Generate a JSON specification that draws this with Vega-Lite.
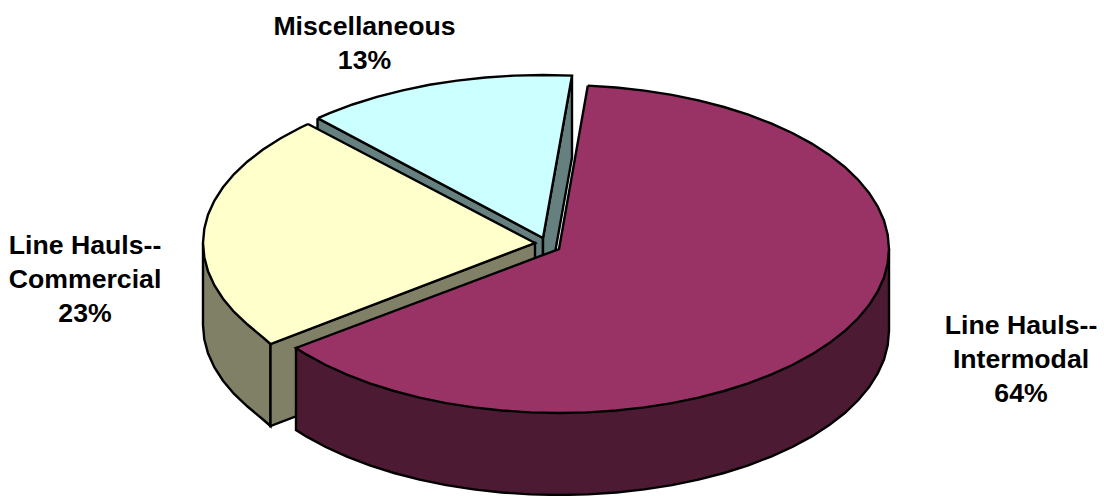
{
"$schema":"https://vega.github.io/schema/vega-lite/v6.json",
"width":1104,"height":496,
"autosize":{"type":"none"},
"padding":0,
"background":"white",
"view":{"stroke":null},
"datasets":{
"outline":[
{"face":"Misc cut A","seq":1,"x":317.5,"y":118.2},{"face":"Misc cut A","seq":2,"x":317.5,"y":200},{"face":"Misc cut A","seq":3,"x":543,"y":320},{"face":"Misc cut A","seq":4,"x":543,"y":238},{"face":"Misc cut A","seq":5,"x":317.5,"y":118.2},
{"face":"Misc cut B","seq":1,"x":572,"y":75.6},{"face":"Misc cut B","seq":2,"x":572,"y":157.6},{"face":"Misc cut B","seq":3,"x":543,"y":320},{"face":"Misc cut B","seq":4,"x":543,"y":238},{"face":"Misc cut B","seq":5,"x":572,"y":75.6},
{"face":"Misc top","seq":1,"x":318,"y":118.2},{"face":"Misc top","seq":2,"x":329.6,"y":113.1},{"face":"Misc top","seq":3,"x":352.6,"y":104.5},{"face":"Misc top","seq":4,"x":377,"y":96.8},{"face":"Misc top","seq":5,"x":402.7,"y":90.3},{"face":"Misc top","seq":6,"x":429.5,"y":84.8},{"face":"Misc top","seq":7,"x":457.1,"y":80.6},{"face":"Misc top","seq":8,"x":485.4,"y":77.5},{"face":"Misc top","seq":9,"x":514.1,"y":75.6},{"face":"Misc top","seq":10,"x":543,"y":75},{"face":"Misc top","seq":11,"x":572,"y":75.6},{"face":"Misc top","seq":12,"x":543,"y":238},{"face":"Misc top","seq":13,"x":318,"y":118.2},
{"face":"Commercial rim","seq":1,"x":203,"y":243},{"face":"Commercial rim","seq":2,"x":203,"y":325},{"face":"Commercial rim","seq":3,"x":204.3,"y":339.2},{"face":"Commercial rim","seq":4,"x":208,"y":353.3},{"face":"Commercial rim","seq":5,"x":214.3,"y":367.2},{"face":"Commercial rim","seq":6,"x":223,"y":380.7},{"face":"Commercial rim","seq":7,"x":234.1,"y":393.9},{"face":"Commercial rim","seq":8,"x":247.5,"y":406.5},{"face":"Commercial rim","seq":9,"x":263,"y":419.5},{"face":"Commercial rim","seq":10,"x":270.5,"y":426},{"face":"Commercial rim","seq":11,"x":270.5,"y":344},{"face":"Commercial rim","seq":12,"x":203,"y":243},
{"face":"Commercial cut","seq":1,"x":270.5,"y":344},{"face":"Commercial cut","seq":2,"x":270.5,"y":426},{"face":"Commercial cut","seq":3,"x":535,"y":325},{"face":"Commercial cut","seq":4,"x":535,"y":243},{"face":"Commercial cut","seq":5,"x":270.5,"y":344},
{"face":"Commercial top","seq":1,"x":308,"y":124},{"face":"Commercial top","seq":2,"x":300.2,"y":127.7},{"face":"Commercial top","seq":3,"x":280.7,"y":138.2},{"face":"Commercial top","seq":4,"x":263,"y":149.5},{"face":"Commercial top","seq":5,"x":247.5,"y":161.5},{"face":"Commercial top","seq":6,"x":234.1,"y":174.1},{"face":"Commercial top","seq":7,"x":223,"y":187.3},{"face":"Commercial top","seq":8,"x":214.3,"y":200.8},{"face":"Commercial top","seq":9,"x":208,"y":214.7},{"face":"Commercial top","seq":10,"x":204.3,"y":228.8},{"face":"Commercial top","seq":11,"x":203,"y":243},{"face":"Commercial top","seq":12,"x":204.3,"y":257.2},{"face":"Commercial top","seq":13,"x":208,"y":271.3},{"face":"Commercial top","seq":14,"x":214.3,"y":285.2},{"face":"Commercial top","seq":15,"x":223,"y":298.7},{"face":"Commercial top","seq":16,"x":234.1,"y":311.9},{"face":"Commercial top","seq":17,"x":247.5,"y":324.5},{"face":"Commercial top","seq":18,"x":263,"y":337.5},{"face":"Commercial top","seq":19,"x":270.5,"y":344},{"face":"Commercial top","seq":20,"x":535,"y":243},{"face":"Commercial top","seq":21,"x":308,"y":124},
{"face":"Intermodal wall","seq":1,"x":889,"y":249},{"face":"Intermodal wall","seq":2,"x":889,"y":331},{"face":"Intermodal wall","seq":3,"x":887.7,"y":345.3},{"face":"Intermodal wall","seq":4,"x":884,"y":359.5},{"face":"Intermodal wall","seq":5,"x":877.7,"y":373.4},{"face":"Intermodal wall","seq":6,"x":869.1,"y":387.1},{"face":"Intermodal wall","seq":7,"x":858.1,"y":400.3},{"face":"Intermodal wall","seq":8,"x":844.8,"y":413},{"face":"Intermodal wall","seq":9,"x":829.3,"y":425.1},{"face":"Intermodal wall","seq":10,"x":811.8,"y":436.4},{"face":"Intermodal wall","seq":11,"x":792.3,"y":447},{"face":"Intermodal wall","seq":12,"x":771.1,"y":456.6},{"face":"Intermodal wall","seq":13,"x":748.3,"y":465.3},{"face":"Intermodal wall","seq":14,"x":724,"y":473},{"face":"Intermodal wall","seq":15,"x":698.5,"y":479.6},{"face":"Intermodal wall","seq":16,"x":671.9,"y":485.1},{"face":"Intermodal wall","seq":17,"x":644.4,"y":489.4},{"face":"Intermodal wall","seq":18,"x":616.3,"y":492.5},{"face":"Intermodal wall","seq":19,"x":587.8,"y":494.4},{"face":"Intermodal wall","seq":20,"x":559,"y":495},{"face":"Intermodal wall","seq":21,"x":530.2,"y":494.4},{"face":"Intermodal wall","seq":22,"x":501.7,"y":492.5},{"face":"Intermodal wall","seq":23,"x":473.6,"y":489.4},{"face":"Intermodal wall","seq":24,"x":446.1,"y":485.1},{"face":"Intermodal wall","seq":25,"x":419.5,"y":479.6},{"face":"Intermodal wall","seq":26,"x":394,"y":473},{"face":"Intermodal wall","seq":27,"x":369.7,"y":465.3},{"face":"Intermodal wall","seq":28,"x":346.9,"y":456.6},{"face":"Intermodal wall","seq":29,"x":325.7,"y":447},{"face":"Intermodal wall","seq":30,"x":306.2,"y":436.4},{"face":"Intermodal wall","seq":31,"x":296,"y":430},{"face":"Intermodal wall","seq":32,"x":296,"y":348},{"face":"Intermodal wall","seq":33,"x":889,"y":249},
{"face":"Intermodal top","seq":1,"x":587.8,"y":85.6},{"face":"Intermodal top","seq":2,"x":616.3,"y":87.5},{"face":"Intermodal top","seq":3,"x":644.4,"y":90.6},{"face":"Intermodal top","seq":4,"x":671.9,"y":94.9},{"face":"Intermodal top","seq":5,"x":698.5,"y":100.4},{"face":"Intermodal top","seq":6,"x":724,"y":107},{"face":"Intermodal top","seq":7,"x":748.3,"y":114.7},{"face":"Intermodal top","seq":8,"x":771.1,"y":123.4},{"face":"Intermodal top","seq":9,"x":792.3,"y":133},{"face":"Intermodal top","seq":10,"x":811.8,"y":143.6},{"face":"Intermodal top","seq":11,"x":829.3,"y":154.9},{"face":"Intermodal top","seq":12,"x":844.8,"y":167},{"face":"Intermodal top","seq":13,"x":858.1,"y":179.7},{"face":"Intermodal top","seq":14,"x":869.1,"y":192.9},{"face":"Intermodal top","seq":15,"x":877.7,"y":206.6},{"face":"Intermodal top","seq":16,"x":884,"y":220.5},{"face":"Intermodal top","seq":17,"x":887.7,"y":234.7},{"face":"Intermodal top","seq":18,"x":889,"y":249},{"face":"Intermodal top","seq":19,"x":887.7,"y":263.3},{"face":"Intermodal top","seq":20,"x":884,"y":277.5},{"face":"Intermodal top","seq":21,"x":877.7,"y":291.4},{"face":"Intermodal top","seq":22,"x":869.1,"y":305.1},{"face":"Intermodal top","seq":23,"x":858.1,"y":318.3},{"face":"Intermodal top","seq":24,"x":844.8,"y":331},{"face":"Intermodal top","seq":25,"x":829.3,"y":343.1},{"face":"Intermodal top","seq":26,"x":811.8,"y":354.4},{"face":"Intermodal top","seq":27,"x":792.3,"y":365},{"face":"Intermodal top","seq":28,"x":771.1,"y":374.6},{"face":"Intermodal top","seq":29,"x":748.3,"y":383.3},{"face":"Intermodal top","seq":30,"x":724,"y":391},{"face":"Intermodal top","seq":31,"x":698.5,"y":397.6},{"face":"Intermodal top","seq":32,"x":671.9,"y":403.1},{"face":"Intermodal top","seq":33,"x":644.4,"y":407.4},{"face":"Intermodal top","seq":34,"x":616.3,"y":410.5},{"face":"Intermodal top","seq":35,"x":587.8,"y":412.4},{"face":"Intermodal top","seq":36,"x":559,"y":413},{"face":"Intermodal top","seq":37,"x":530.2,"y":412.4},{"face":"Intermodal top","seq":38,"x":501.7,"y":410.5},{"face":"Intermodal top","seq":39,"x":473.6,"y":407.4},{"face":"Intermodal top","seq":40,"x":446.1,"y":403.1},{"face":"Intermodal top","seq":41,"x":419.5,"y":397.6},{"face":"Intermodal top","seq":42,"x":394,"y":391},{"face":"Intermodal top","seq":43,"x":369.7,"y":383.3},{"face":"Intermodal top","seq":44,"x":346.9,"y":374.6},{"face":"Intermodal top","seq":45,"x":325.7,"y":365},{"face":"Intermodal top","seq":46,"x":306.2,"y":354.4},{"face":"Intermodal top","seq":47,"x":296,"y":348},{"face":"Intermodal top","seq":48,"x":559,"y":249},{"face":"Intermodal top","seq":49,"x":587.8,"y":85.6}
],
"labels":[
{"lines":["Miscellaneous","13%"],"x":364.5,"y":27},
{"lines":["Line Hauls--","Commercial","23%"],"x":85,"y":245.5},
{"lines":["Line Hauls--","Intermodal","64%"],"x":1021,"y":326}
]
},
"layer":[
{"data":{"name":"outline"},
 "mark":{"type":"line","stroke":"black","strokeWidth":2.4,"strokeJoin":"miter","strokeCap":"butt","clip":false},
 "encoding":{
  "x":{"field":"x","type":"quantitative","scale":{"domain":[0,1104],"nice":false,"zero":false},"axis":null},
  "y":{"field":"y","type":"quantitative","scale":{"domain":[496,0],"nice":false,"zero":false},"axis":null},
  "order":{"field":"seq","type":"quantitative"},
  "fill":{"field":"face","type":"nominal","legend":null,"scale":{
    "domain":["Misc cut A","Misc cut B","Misc top","Commercial rim","Commercial cut","Commercial top","Intermodal wall","Intermodal top"],
    "range":["#668080","#668080","#CCFFFF","#808066","#808066","#FFFFCC","#4D1A33","#993366"]}}
 }},
{"data":{"name":"labels"},
 "mark":{"type":"text","font":"Liberation Sans","fontWeight":"bold","fontSize":26.67,"lineHeight":34,"align":"center","baseline":"middle","color":"black"},
 "encoding":{
  "x":{"field":"x","type":"quantitative"},
  "y":{"field":"y","type":"quantitative"},
  "text":{"field":"lines"}
 }}
]
}
